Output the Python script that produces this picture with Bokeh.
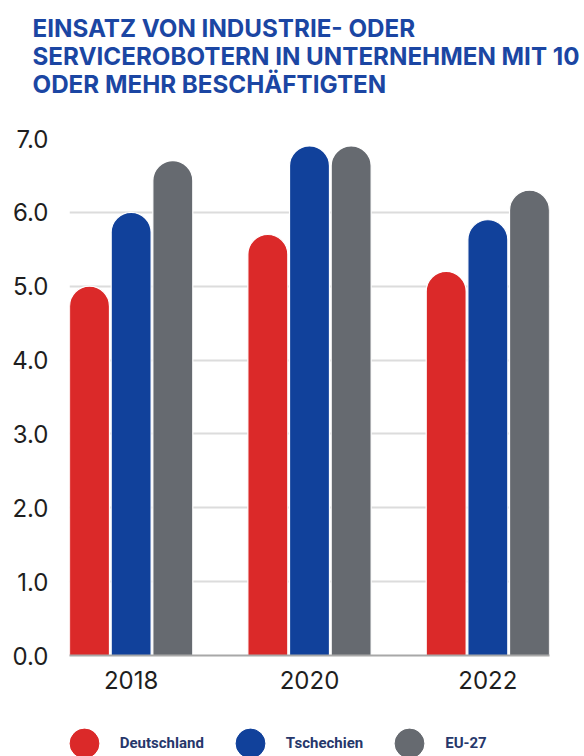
from bokeh.plotting import figure
from bokeh.layouts import column
from bokeh.models import ColumnDataSource, FixedTicker, NumeralTickFormatter, Legend, LegendItem, Range1d
from bokeh.transform import dodge
from bokeh.embed import file_html
from bokeh.resources import INLINE

years = ["2018", "2020", "2022"]
deutschland = [5.0, 5.7, 5.2]
tschechien = [6.0, 6.9, 5.9]
eu27 = [6.7, 6.9, 6.3]
series_names = ["Deutschland", "Tschechien", "EU-27"]
colors = ["#db2929", "#11419b", "#666a70"]
y_ticks = [0, 1, 2, 3, 4, 5, 6, 7]

title_lines = [
    "EINSATZ VON INDUSTRIE- ODER",
    "SERVICEROBOTERN IN UNTERNEHMEN MIT 10",
    "ODER MEHR BESCHÄFTIGTEN",
    " ",
]

xs = list(range(len(years)))
src = ColumnDataSource(dict(x=xs, de=deutschland, cz=tschechien, eu=eu27))

p = figure(width=584, height=700, output_backend="svg", toolbar_location=None,
           x_range=Range1d(-0.3457, 2.3457), y_range=Range1d(0, 7.0),
           min_border_left=69, min_border_right=35, min_border_top=138, min_border_bottom=45)

p.title.text = "\n".join(title_lines)
p.title.text_font = "Inter"
p.title.text_font_style = "bold"
p.title.text_font_size = "24.2px"
p.title.text_color = "#1b46a3"
p.title.text_line_height = 0.97
p.title.align = "left"
p.title.vertical_align = "top"
p.title.offset = -37
p.title.standoff = 20

bw = 0.224
off = 0.2336
cols = ["de", "cz", "eu"]
for i, c in enumerate(cols):
    p.vbar(x=dodge("x", (i - 1) * off), top=c, width=bw, bottom=0, source=src,
           fill_color=colors[i], line_color="white", line_width=1.2,
           border_radius=(20, 20, 0, 0))

p.outline_line_color = None
p.background_fill_color = "white"
p.border_fill_color = "white"

p.xgrid.grid_line_color = None
p.ygrid.grid_line_color = "#dcdcdc"
p.ygrid.grid_line_width = 2
p.ygrid.ticker = FixedTicker(ticks=y_ticks)

p.yaxis.ticker = FixedTicker(ticks=y_ticks)
p.yaxis.formatter = NumeralTickFormatter(format="0.0")
p.yaxis.axis_line_color = None
p.yaxis.major_tick_line_color = None
p.yaxis.minor_tick_line_color = None
p.yaxis.major_label_text_font = "Inter"
p.yaxis.major_label_text_font_size = "24px"
p.yaxis.major_label_text_color = "#1e1e1e"
p.yaxis.major_label_standoff = 15

p.xaxis.ticker = FixedTicker(ticks=xs)
p.xaxis.major_label_overrides = {i: y for i, y in enumerate(years)}
p.xaxis.axis_line_color = "#a8a8a8"
p.xaxis.axis_line_width = 2
p.xaxis.major_tick_line_color = None
p.xaxis.minor_tick_line_color = None
p.xaxis.major_label_text_font = "Inter"
p.xaxis.major_label_text_font_size = "24px"
p.xaxis.major_label_text_color = "#1e1e1e"
p.xaxis.major_label_standoff = 9

# legend in its own strip below the chart
lg = figure(width=584, height=56, output_backend="svg", toolbar_location=None,
            x_range=Range1d(0, 1), y_range=Range1d(0, 1),
            min_border_left=0, min_border_right=0, min_border_top=0, min_border_bottom=0,
            x_axis_location=None, y_axis_location=None)
lg.outline_line_color = None
lg.xgrid.grid_line_color = None
lg.ygrid.grid_line_color = None

items = []
for name, col in zip(series_names, colors):
    r = lg.scatter(x=[-5], y=[-5], marker="circle", fill_color=col, line_color=col)
    items.append(LegendItem(label=name, renderers=[r]))

legend = Legend(items=items, orientation="horizontal", location=(-21.25, -23.25),
                glyph_width=72, glyph_height=72, label_standoff=-1, spacing=10,
                padding=0, margin=0, border_line_color=None, background_fill_alpha=0,
                label_text_font="Roboto", label_text_font_style="bold",
                label_text_font_size="15px", label_text_color="#26376b")
lg.add_layout(legend, "center")

layout = column(p, lg, spacing=0)
open("out.html", "w").write(file_html(layout, INLINE))
